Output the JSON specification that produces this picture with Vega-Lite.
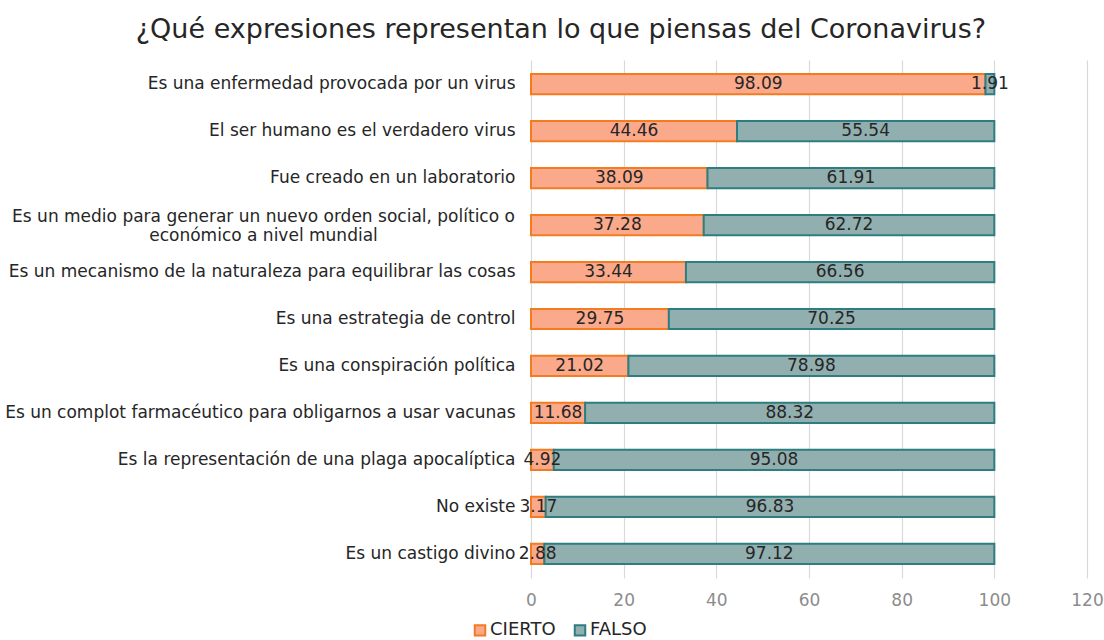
{
  "$schema": "https://vega.github.io/schema/vega-lite/v6.json",
  "autosize": {"type": "none"},
  "width": 556,
  "height": 518,
  "padding": {"left": 531, "top": 60, "right": 17, "bottom": 62},
  "background": "white",
  "title": {
    "text": "¿Qué expresiones representan lo que piensas del Coronavirus?",
    "font": "DejaVu Sans",
    "fontSize": 27,
    "fontWeight": "normal",
    "color": "#262626",
    "anchor": "middle",
    "frame": "bounds",
    "dx": 7,
    "offset": 16
  },
  "data": {
    "values": [
      {"q": "Es una enfermedad provocada por un virus", "s": "CIERTO", "o": 1, "v": 98.09},
      {"q": "Es una enfermedad provocada por un virus", "s": "FALSO", "o": 2, "v": 1.91},
      {"q": "El ser humano es el verdadero virus", "s": "CIERTO", "o": 1, "v": 44.46},
      {"q": "El ser humano es el verdadero virus", "s": "FALSO", "o": 2, "v": 55.54},
      {"q": "Fue creado en un laboratorio", "s": "CIERTO", "o": 1, "v": 38.09},
      {"q": "Fue creado en un laboratorio", "s": "FALSO", "o": 2, "v": 61.91},
      {"q": "Es un medio para generar un nuevo orden social, político o económico a nivel mundial", "s": "CIERTO", "o": 1, "v": 37.28},
      {"q": "Es un medio para generar un nuevo orden social, político o económico a nivel mundial", "s": "FALSO", "o": 2, "v": 62.72},
      {"q": "Es un mecanismo de la naturaleza para equilibrar las cosas", "s": "CIERTO", "o": 1, "v": 33.44},
      {"q": "Es un mecanismo de la naturaleza para equilibrar las cosas", "s": "FALSO", "o": 2, "v": 66.56},
      {"q": "Es una estrategia de control", "s": "CIERTO", "o": 1, "v": 29.75},
      {"q": "Es una estrategia de control", "s": "FALSO", "o": 2, "v": 70.25},
      {"q": "Es una conspiración política", "s": "CIERTO", "o": 1, "v": 21.02},
      {"q": "Es una conspiración política", "s": "FALSO", "o": 2, "v": 78.98},
      {"q": "Es un complot farmacéutico para obligarnos a usar vacunas", "s": "CIERTO", "o": 1, "v": 11.68},
      {"q": "Es un complot farmacéutico para obligarnos a usar vacunas", "s": "FALSO", "o": 2, "v": 88.32},
      {"q": "Es la representación de una plaga apocalíptica", "s": "CIERTO", "o": 1, "v": 4.92},
      {"q": "Es la representación de una plaga apocalíptica", "s": "FALSO", "o": 2, "v": 95.08},
      {"q": "No existe", "s": "CIERTO", "o": 1, "v": 3.17},
      {"q": "No existe", "s": "FALSO", "o": 2, "v": 96.83},
      {"q": "Es un castigo divino", "s": "CIERTO", "o": 1, "v": 2.88},
      {"q": "Es un castigo divino", "s": "FALSO", "o": 2, "v": 97.12}
    ]
  },
  "encoding": {
    "y": {
      "field": "q",
      "type": "nominal",
      "sort": null,
      "scale": {"paddingInner": 0.57, "paddingOuter": 0.3},
      "axis": {
        "title": null,
        "domain": false,
        "ticks": false,
        "labelPadding": {"condition": {"test": "datum.value == 'Es un medio para generar un nuevo orden social, político o económico a nivel mundial'", "value": 268}, "value": 16},
        "labelAlign": {"condition": {"test": "datum.value == 'Es un medio para generar un nuevo orden social, político o económico a nivel mundial'", "value": "center"}, "value": "right"},
        "labelOffset": {"condition": {"test": "datum.value == 'Es un medio para generar un nuevo orden social, político o económico a nivel mundial'", "value": -8}, "value": 0},
        "labelFont": "DejaVu Sans",
        "labelFontSize": 17,
        "labelColor": "#262626",
        "labelLimit": 600,
        "labelLineHeight": 19,
        "labelExpr": "datum.value == 'Es un medio para generar un nuevo orden social, político o económico a nivel mundial' ? ['Es un medio para generar un nuevo orden social, político o', 'económico a nivel mundial'] : datum.label"
      }
    },
    "x": {
      "field": "v",
      "type": "quantitative",
      "stack": "zero",
      "scale": {"domain": [0, 120], "nice": false},
      "axis": {
        "title": null,
        "values": [0, 20, 40, 60, 80, 100, 120],
        "domain": false,
        "ticks": false,
        "grid": true,
        "gridColor": "#d9d9d9",
        "gridWidth": 1.2,
        "labelFlush": false,
        "labelPadding": 14,
        "labelFont": "DejaVu Sans",
        "labelFontSize": 17,
        "labelColor": "#8c8c8c"
      }
    },
    "order": {"field": "o", "type": "quantitative"}
  },
  "layer": [
    {
      "mark": {"type": "bar", "strokeWidth": 2},
      "encoding": {
        "color": {
          "field": "s",
          "type": "nominal",
          "scale": {"domain": ["CIERTO", "FALSO"], "range": ["#fba98b", "#92afaf"]},
          "legend": {
            "title": null,
            "orient": "none",
            "direction": "horizontal",
            "legendX": -60,
            "legendY": 561,
            "symbolType": "square",
            "symbolSize": 110,
            "symbolStrokeWidth": 2,
            "labelFont": "DejaVu Sans",
            "labelFontSize": 18,
            "labelColor": "#262626",
            "labelOffset": 1,
            "columnPadding": 14
          }
        },
        "stroke": {
          "field": "s",
          "type": "nominal",
          "scale": {"domain": ["CIERTO", "FALSO"], "range": ["#f47b20", "#2e7d80"]},
          "legend": null
        }
      }
    },
    {
      "mark": {"type": "text", "font": "DejaVu Sans", "fontSize": 17, "color": "#262626", "align": "center", "baseline": "middle"},
      "encoding": {
        "x": {"field": "v", "type": "quantitative", "stack": "zero", "bandPosition": 0.5},
        "text": {"field": "v", "type": "quantitative", "format": ".2f"}
      }
    }
  ],
  "config": {"view": {"stroke": null}}
}
